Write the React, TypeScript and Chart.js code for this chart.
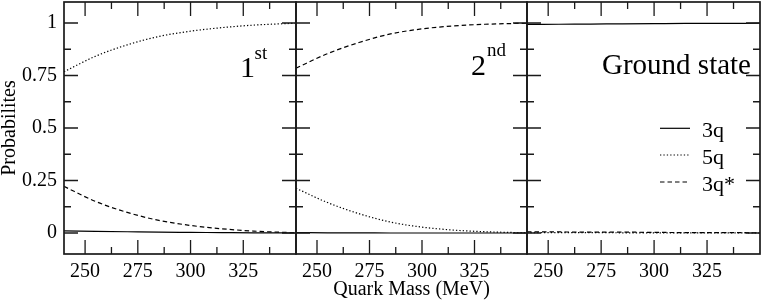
import React, { useEffect, useRef } from "react";
import { Chart, registerables } from "chart.js";
Chart.register(...registerables);

// ---- data ----
const quarkMass = [240, 255, 270, 285, 300, 315, 330, 350];

// 1st excited state
const first3q = [0.01, 0.008, 0.006, 0.004, 0.003, 0.002, 0.001, 0.0];
const first5q = [0.768, 0.842, 0.896, 0.936, 0.961, 0.978, 0.99, 0.999];
const first3qStar = [0.222, 0.15, 0.098, 0.06, 0.036, 0.02, 0.009, 0.001];

// 2nd excited state
const second3q = [0.002, 0.001, 0.001, 0.0, 0.0, 0.0, 0.0, 0.0];
const second5q = [0.213, 0.145, 0.092, 0.052, 0.028, 0.014, 0.006, 0.001];
const second3qStar = [0.785, 0.854, 0.907, 0.948, 0.972, 0.986, 0.994, 0.999];

// ground state
const ground3q = [0.993, 0.994, 0.995, 0.996, 0.997, 0.998, 0.998, 0.999];
const ground5q = [0.002, 0.002, 0.002, 0.001, 0.001, 0.001, 0.001, 0.0];
const ground3qStar = [0.005, 0.005, 0.004, 0.004, 0.003, 0.002, 0.002, 0.001];

const seriesLabels = ["3q", "5q", "3q*"];
const panelNames = ["1", "2", "Ground state"];
const panelSuperscripts = ["st", "nd", ""];

const xTickValues = [250, 275, 300, 325];
const xMinorValues = [262.5, 287.5, 312.5, 337.5];
const yTickValues = [0, 0.25, 0.5, 0.75, 1];
const yTickLabels = ["0", "0.25", "0.5", "0.75", "1"];
const yMinorValues = [0.125, 0.375, 0.625, 0.875];

const panels = [
  [first3q, first5q, first3qStar],
  [second3q, second5q, second3qStar],
  [ground3q, ground5q, ground3qStar],
];

// ---- styles / layout ----
const W = 763;
const H = 302;
const FONT = "'Liberation Serif', serif";
const PANEL_LEFT = [64, 296, 527];
const PANEL_RIGHT = [296, 527, 760];
const DASHES: number[][] = [[], [1.3, 2.1], [4.5, 3]];

Chart.defaults.font.family = FONT;
Chart.defaults.color = "#000";

function zeroPadding(s: any) {
  s.paddingTop = 0;
  s.paddingBottom = 0;
  s.paddingLeft = 0;
  s.paddingRight = 0;
}

function makeFramePlugin(i: number) {
  return {
    id: "frame" + i,
    afterDatasetsDraw(chart: any) {
      const { ctx, chartArea: a } = chart;
      const xs = chart.scales.x;
      const ys = chart.scales.y;
      ctx.save();
      ctx.strokeStyle = "#1a1a1a";
      ctx.lineWidth = 1.3;
      ctx.setLineDash([]);
      ctx.beginPath();
      const seg = (x1: number, y1: number, x2: number, y2: number) => {
        ctx.moveTo(x1, y1);
        ctx.lineTo(x2, y2);
      };
      xTickValues.forEach((v) => {
        const p = xs.getPixelForValue(v);
        seg(p, a.bottom, p, a.bottom - 14);
        seg(p, a.top, p, a.top + 14);
      });
      xMinorValues.forEach((v) => {
        const p = xs.getPixelForValue(v);
        seg(p, a.bottom, p, a.bottom - 7);
        seg(p, a.top, p, a.top + 7);
      });
      yTickValues.forEach((v) => {
        const p = ys.getPixelForValue(v);
        seg(a.left, p, a.left + 14, p);
        seg(a.right, p, a.right - 14, p);
      });
      yMinorValues.forEach((v) => {
        const p = ys.getPixelForValue(v);
        seg(a.left, p, a.left + 7, p);
        seg(a.right, p, a.right - 7, p);
      });
      ctx.stroke();
      ctx.lineWidth = 1.7;
      ctx.strokeRect(a.left, a.top, a.right - a.left, a.bottom - a.top);

      // annotations
      ctx.fillStyle = "#000";
      ctx.textAlign = "left";
      ctx.textBaseline = "alphabetic";
      if (i === 0) {
        ctx.font = `30px ${FONT}`;
        ctx.fillText(panelNames[0], 240, 77);
        ctx.font = `19px ${FONT}`;
        ctx.fillText(panelSuperscripts[0], 254.5, 58.5);
      } else if (i === 1) {
        ctx.font = `30px ${FONT}`;
        ctx.fillText(panelNames[1], 471, 74.5);
        ctx.font = `19px ${FONT}`;
        ctx.fillText(panelSuperscripts[1], 487, 56);
      } else {
        ctx.font = `29px ${FONT}`;
        ctx.fillText(panelNames[2], 602, 73.5);
        // legend
        const rows = [128.3, 155, 182];
        rows.forEach((y, k) => {
          ctx.save();
          ctx.strokeStyle = "#000";
          ctx.lineWidth = 1.2;
          ctx.setLineDash(DASHES[k]);
          ctx.beginPath();
          ctx.moveTo(660, y);
          ctx.lineTo(690, y);
          ctx.stroke();
          ctx.restore();
          ctx.font = `22px ${FONT}`;
          ctx.fillText(seriesLabels[k], 702, y + 8.5);
        });
      }
      ctx.restore();
    },
  };
}

function makeConfig(i: number): any {
  const isFirst = i === 0;
  return {
    type: "line",
    data: {
      datasets: panels[i].map((arr, k) => ({
        label: seriesLabels[k],
        data: quarkMass.map((x, j) => ({ x, y: arr[j] })),
        borderColor: "#000",
        borderWidth: 1.2,
        borderDash: DASHES[k],
        pointRadius: 0,
        fill: false,
        cubicInterpolationMode: "monotone",
      })),
    },
    options: {
      responsive: false,
      animation: false,
      devicePixelRatio: 1,
      events: [],
      layout: {
        padding: {
          left: isFirst ? 0 : PANEL_LEFT[i],
          right: W - PANEL_RIGHT[i],
          top: 2,
          bottom: 0,
        },
      },
      plugins: { legend: { display: false }, tooltip: { enabled: false } },
      scales: {
        x: {
          type: "linear",
          min: 240,
          max: 350,
          afterBuildTicks: (s: any) => {
            s.ticks = xTickValues.map((v) => ({ value: v }));
          },
          afterFit: (s: any) => {
            s.height = H - 254;
            zeroPadding(s);
          },
          grid: { display: false, drawTicks: false },
          border: { display: false },
          ticks: {
            font: { family: FONT, size: 20 },
            color: "#000",
            padding: 6,
            maxRotation: 0,
            autoSkip: false,
          },
          title:
            i === 1
              ? {
                  display: true,
                  text: "Quark Mass (MeV)",
                  font: { family: FONT, size: 20 },
                  color: "#000",
                  padding: { top: 0, bottom: 0 },
                }
              : { display: false },
        },
        y: {
          type: "linear",
          min: -0.1,
          max: 1.1,
          afterBuildTicks: (s: any) => {
            s.ticks = yTickValues.map((v) => ({ value: v }));
          },
          afterFit: (s: any) => {
            s.width = isFirst ? PANEL_LEFT[0] : 0;
            zeroPadding(s);
          },
          grid: { display: false, drawTicks: false },
          border: { display: false },
          ticks: {
            display: isFirst,
            font: { family: FONT, size: 20 },
            color: "#000",
            padding: 7,
            callback: (v: number) => {
              const idx = yTickValues.indexOf(v);
              return idx >= 0 ? yTickLabels[idx] : "";
            },
          },
          title: isFirst
            ? {
                display: true,
                text: "Probabilites",
                font: { family: FONT, size: 20 },
                color: "#000",
                padding: { top: -2, bottom: 0 },
              }
            : { display: false },
        },
      },
    },
    plugins: [makeFramePlugin(i)],
  };
}

function Panel({ index }: { index: number }) {
  const ref = useRef<HTMLCanvasElement | null>(null);
  useEffect(() => {
    if (!ref.current) return;
    const chart = new Chart(ref.current, makeConfig(index));
    return () => chart.destroy();
  }, [index]);
  return (
    <canvas
      ref={ref}
      width={W}
      height={H}
      style={{ position: "absolute", left: 0, top: 0, width: W, height: H }}
    />
  );
}

export default function App() {
  return (
    <div
      style={{
        position: "absolute",
        left: 0,
        top: 0,
        width: W,
        height: H,
        background: "#fff",
      }}
    >
      <Panel index={0} />
      <Panel index={1} />
      <Panel index={2} />
    </div>
  );
}
